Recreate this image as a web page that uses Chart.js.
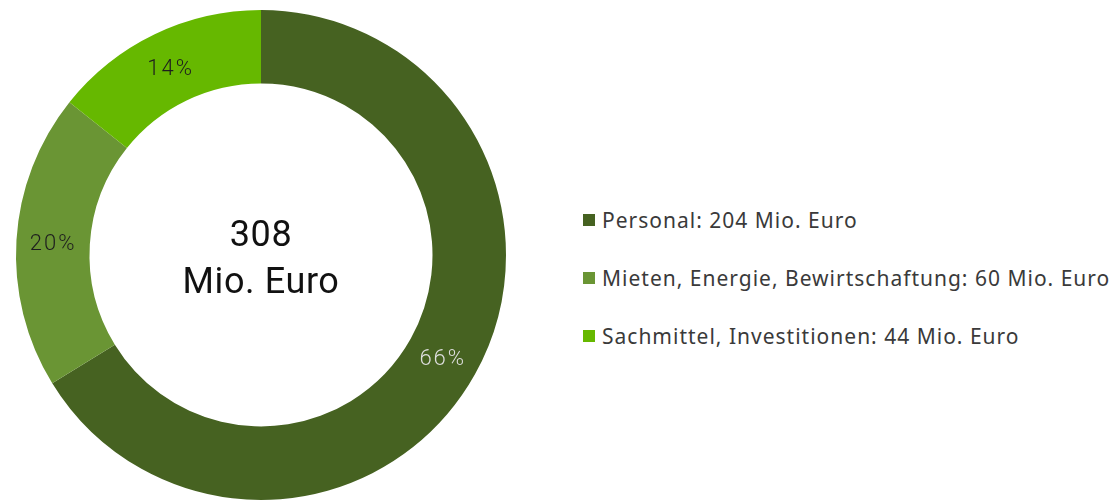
<!DOCTYPE html>
<html lang="de">
<head>
<meta charset="utf-8">
<title>Ausgaben</title>
<script src="https://cdn.jsdelivr.net/npm/chart.js@4/dist/chart.umd.min.js"></script>
<style>
  html, body { margin: 0; padding: 0; background: #fff; }
  #wrap { position: relative; width: 1118px; height: 502px; overflow: hidden; }
  #costs { position: absolute; left: 0; top: 0; }
  #legend { position: absolute; left: 583px; top: 0; font-family: "Noto Sans", sans-serif; font-size: 21px; letter-spacing: 1px; color: #3a3a3a; }
  .row { position: absolute; left: 0; white-space: nowrap; display: flex; align-items: center; height: 24px; }
  .box { width: 12px; height: 12px; margin-right: 7px; flex: none; }
</style>
</head>
<body>
<div id="wrap">
  <canvas id="costs" width="522" height="502"></canvas>
  <div id="legend"></div>
</div>
<script>
const categories = ['Personal', 'Mieten, Energie, Bewirtschaftung', 'Sachmittel, Investitionen'];
const amounts = [204, 60, 44];
const shareLabels = ['66%', '20%', '14%'];
const colors = ['#466221', '#6a9534', '#66b800'];
const shareColors = ['#dedede', '#1e1e1e', '#1e1e1e'];
const totalLines = ['308', 'Mio. Euro'];

document.addEventListener('DOMContentLoaded', () => {
    const legend = document.getElementById('legend');
    categories.forEach((name, i) => {
        const row = document.createElement('div');
        row.className = 'row';
        row.style.top = (208 + i * 58) + 'px';
        row.innerHTML = `<span class="box" style="background:${colors[i]}"></span>${name}: ${amounts[i]} Mio. Euro`;
        legend.appendChild(row);
    });

    // percentage in the middle of each ring segment
    const sliceLabels = {
        id: 'sliceLabels',
        afterDatasetsDraw(chart) {
            const ctx = chart.ctx;
            const meta = chart.getDatasetMeta(0);
            ctx.save();
            ctx.font = '300 22px Roboto, sans-serif';
            ctx.letterSpacing = '2px';
            ctx.textAlign = 'center';
            ctx.textBaseline = 'alphabetic';
            meta.data.forEach((arc, i) => {
                const p = arc.getCenterPoint();
                ctx.fillStyle = shareColors[i];
                ctx.fillText(shareLabels[i], p.x, p.y + 8);
            });
            ctx.restore();
        }
    };

    // total in the hole
    const centerTotal = {
        id: 'centerTotal',
        afterDraw(chart) {
            const ctx = chart.ctx;
            const arc = chart.getDatasetMeta(0).data[0];
            ctx.save();
            ctx.font = '36px Roboto, sans-serif';
            ctx.letterSpacing = '0.6px';
            ctx.fillStyle = '#111';
            ctx.textAlign = 'center';
            ctx.textBaseline = 'alphabetic';
            ctx.fillText(totalLines[0], arc.x, 246);
            ctx.fillText(totalLines[1], arc.x, 293);
            ctx.restore();
        }
    };

    new Chart(document.getElementById('costs'), {
        type: 'doughnut',
        data: {
            labels: categories,
            datasets: [{
                data: amounts,
                backgroundColor: colors,
                borderWidth: 0
            }]
        },
        options: {
            responsive: false,
            animation: false,
            cutout: '70%',
            layout: { padding: { left: 16, right: 16, top: 10, bottom: 2 } },
            plugins: {
                legend: { display: false },
                tooltip: { enabled: false }
            }
        },
        plugins: [sliceLabels, centerTotal]
    });
});
</script>
</body>
</html>
